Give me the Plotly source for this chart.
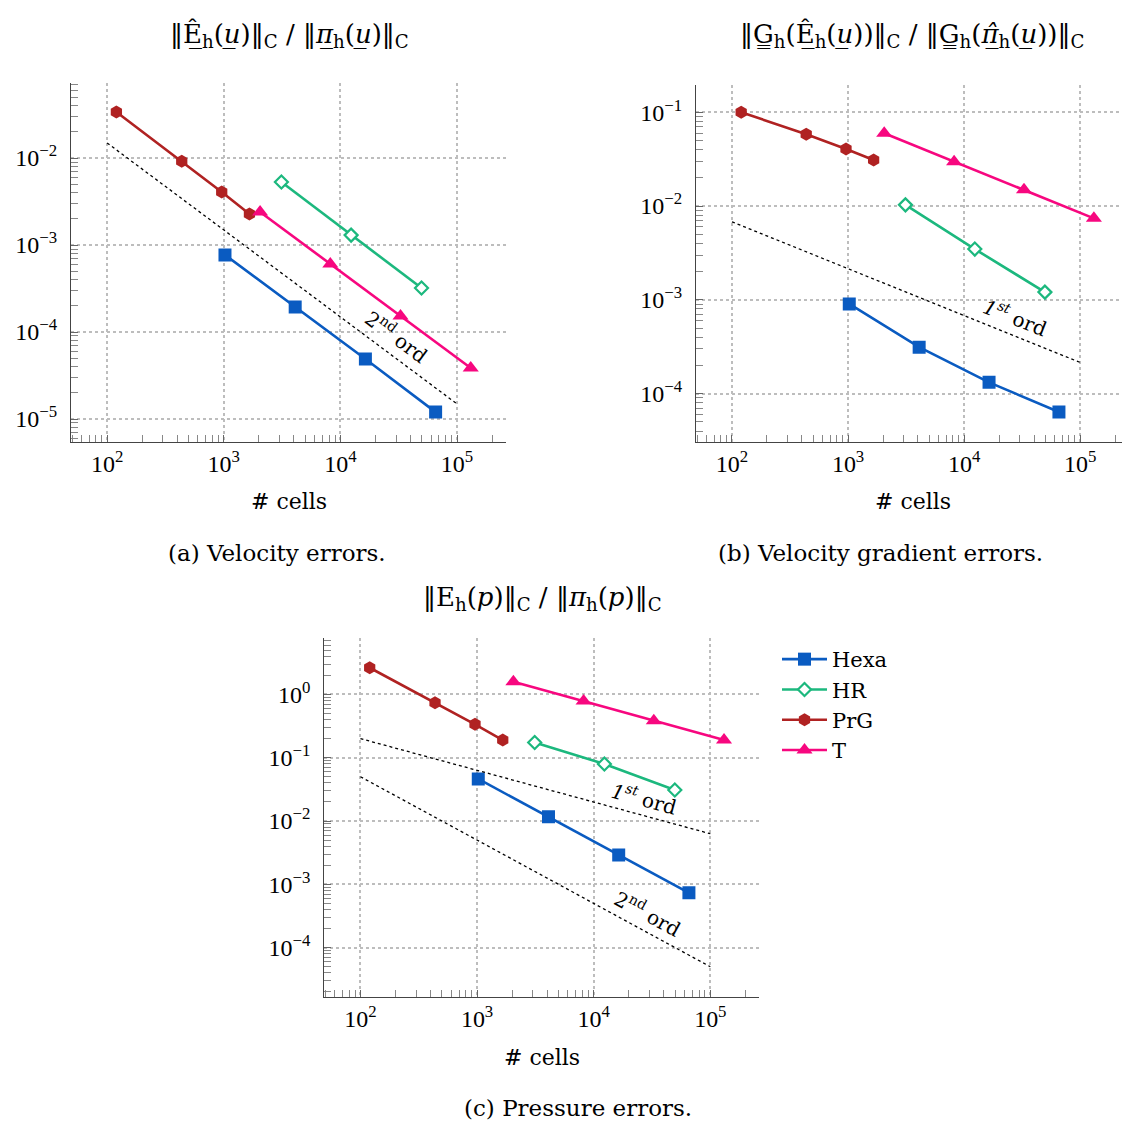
import plotly.graph_objects as go

# ---------------- data ----------------
hexa_cells = [1024, 4096, 16384, 65536]
hr_cells = [3120, 12350, 49600]
prg_cells = [120, 436, 960, 1660]
t_cells = [2048, 8192, 32768, 131072]

# (a) velocity errors
a_hexa = [7.7e-4, 1.94e-4, 4.9e-5, 1.2e-5]
a_hr = [5.3e-3, 1.30e-3, 3.2e-4]
a_prg = [3.38e-2, 9.2e-3, 4.07e-3, 2.27e-3]
a_t = [2.4e-3, 6.05e-4, 1.53e-4, 3.86e-5]

# (b) velocity gradient errors
b_hexa = [9.06e-4, 3.13e-4, 1.32e-4, 6.38e-5]
b_hr = [1.03e-2, 3.48e-3, 1.21e-3]
b_prg = [0.100, 0.0583, 0.0406, 0.031]
b_t = [0.0597, 0.0297, 0.0149, 0.0074]

# (c) pressure errors
c_hexa = [0.0461, 0.0117, 2.9e-3, 7.36e-4]
c_hr = [0.174, 0.0795, 0.0309]
c_prg = [2.63, 0.737, 0.336, 0.19]
c_t = [1.58, 0.784, 0.383, 0.19]

# reference slopes
ref_x = [100, 100000]
a_ref2 = [1.49e-2, 1.49e-5]
b_ref1 = [6.8e-3, 2.15e-4]
c_ref1 = [0.2, 6.3e-3]
c_ref2 = [0.05, 5e-5]

# tick labels
x_tickvals = [1e2, 1e3, 1e4, 1e5]
x_ticktext = ["10<sup>2</sup>", "10<sup>3</sup>", "10<sup>4</sup>", "10<sup>5</sup>"]
a_tickvals = [1e-5, 1e-4, 1e-3, 1e-2]
a_ticktext = ["10<sup>−5</sup>", "10<sup>−4</sup>", "10<sup>−3</sup>", "10<sup>−2</sup>"]
b_tickvals = [1e-4, 1e-3, 1e-2, 1e-1]
b_ticktext = ["10<sup>−4</sup>", "10<sup>−3</sup>", "10<sup>−2</sup>", "10<sup>−1</sup>"]
c_tickvals = [1e-4, 1e-3, 1e-2, 1e-1, 1e0]
c_ticktext = ["10<sup>−4</sup>", "10<sup>−3</sup>", "10<sup>−2</sup>", "10<sup>−1</sup>", "10<sup>0</sup>"]

TFONT = "DejaVu Serif"
NFONT = "Liberation Serif"
colors = {"Hexa": "#0a5bc1", "HR": "#1cb87e", "PrG": "#b02222", "T": "#f7077f"}

fig = go.Figure()


def add_series(xa, ya, hexa, hr, prg, t, legend):
    fig.add_trace(go.Scatter(x=hexa_cells, y=hexa, name="Hexa", mode="lines+markers",
                             line=dict(color=colors["Hexa"], width=2.6),
                             marker=dict(symbol="square", size=13, color=colors["Hexa"]),
                             xaxis=xa, yaxis=ya, showlegend=legend))
    fig.add_trace(go.Scatter(x=hr_cells, y=hr, name="HR", mode="lines+markers",
                             line=dict(color=colors["HR"], width=2.6),
                             marker=dict(symbol="diamond", size=10, color="white",
                                         line=dict(color=colors["HR"], width=2.2)),
                             xaxis=xa, yaxis=ya, showlegend=legend))
    fig.add_trace(go.Scatter(x=prg_cells, y=prg, name="PrG", mode="lines+markers",
                             line=dict(color=colors["PrG"], width=2.6),
                             marker=dict(symbol="hexagon", size=13, color=colors["PrG"]),
                             xaxis=xa, yaxis=ya, showlegend=legend))
    fig.add_trace(go.Scatter(x=t_cells, y=t, name="T", mode="lines+markers",
                             line=dict(color=colors["T"], width=2.6),
                             marker=dict(symbol="triangle-up", size=14, color=colors["T"]),
                             xaxis=xa, yaxis=ya, showlegend=legend))


def add_ref(xa, ya, yvals):
    fig.add_trace(go.Scatter(x=ref_x, y=yvals, mode="lines",
                             line=dict(color="black", width=1.3, dash="dot"),
                             xaxis=xa, yaxis=ya, showlegend=False, hoverinfo="skip"))


add_series("x", "y", a_hexa, a_hr, a_prg, a_t, False)
add_ref("x", "y", a_ref2)
add_series("x2", "y2", b_hexa, b_hr, b_prg, b_t, False)
add_ref("x2", "y2", b_ref1)
add_series("x3", "y3", c_hexa, c_hr, c_prg, c_t, True)
add_ref("x3", "y3", c_ref1)
add_ref("x3", "y3", c_ref2)

W, H = 1130, 1126
OFF = 8  # page body margin


def px_x(p):
    return (p - OFF) / W


def px_y(p):
    return 1 - (p - OFF) / H


common = dict(
    type="log", tickmode="array", automargin=False,
    showgrid=True, gridcolor="#bdbdbd", griddash="dot", gridwidth=1.6,
    showline=True, linecolor="#444444", linewidth=1.3, mirror=False,
    ticks="inside", ticklen=7, tickcolor="#666666", tickwidth=1,
    tickfont=dict(family=NFONT, size=24, color="black"),
    minor=dict(ticks="inside", ticklen=7, dtick="D1", tickcolor="#888888", showgrid=False),
    zeroline=False,
)
ycommon = dict(common, ticklabelstandoff=8)
xt = dict(tickvals=x_tickvals, ticktext=x_ticktext)

xr = [1.69, 5.42]
fig.update_layout(
    xaxis=dict(common, **xt, domain=[px_x(71), px_x(506)], range=xr, anchor="y"),
    yaxis=dict(ycommon, tickvals=a_tickvals, ticktext=a_ticktext,
               domain=[px_y(441.7), px_y(83.3)], range=[-5.261, -1.141], anchor="x"),
    xaxis2=dict(common, **xt, domain=[px_x(696), px_x(1129)], range=xr, anchor="y2"),
    yaxis2=dict(ycommon, tickvals=b_tickvals, ticktext=b_ticktext,
                domain=[px_y(441.7), px_y(84.7)], range=[-4.512, -0.706], anchor="x2"),
    xaxis3=dict(common, **xt, domain=[px_x(324.3), px_x(759.3)], range=xr, anchor="y3"),
    yaxis3=dict(ycommon, tickvals=c_tickvals, ticktext=c_ticktext,
                domain=[px_y(996.7), px_y(638.3)], range=[-4.774, 0.885], anchor="x3"),
)

ann = []


def paper_text(text, x, y, size=20):
    ann.append(dict(text=text, x=px_x(x), y=px_y(y), xref="paper", yref="paper",
                    showarrow=False, xanchor="center", yanchor="middle",
                    font=dict(family=TFONT, size=size, color="black")))


# titles
paper_text("‖Ê̲<sub>h</sub>(<i>u̲</i>)‖<sub>C</sub> / ‖<i>π̲</i><sub>h</sub>(<i>u̲</i>)‖<sub>C</sub>", 289, 35, 26)
paper_text("‖G̳<sub>h</sub>(Ê̲<sub>h</sub>(<i>u̲</i>))‖<sub>C</sub> / ‖G̳<sub>h</sub>(<i>π̲̂</i><sub>h</sub>(<i>u̲</i>))‖<sub>C</sub>", 912, 35, 26)
paper_text("‖E<sub>h</sub>(<i>p</i>)‖<sub>C</sub> / ‖<i>π</i><sub>h</sub>(<i>p</i>)‖<sub>C</sub>", 542, 598, 26)

# x-axis titles
paper_text("# cells", 289, 501, 22)
paper_text("# cells", 913, 501, 22)
paper_text("# cells", 542, 1057, 22)

# captions
paper_text("(a) Velocity errors.", 277, 553, 23)
paper_text("(b) Velocity gradient errors.", 880, 553, 23)
paper_text("(c) Pressure errors.", 578, 1108, 23)


def slope_label(text, xa, ya, lx, ly, angle):
    ann.append(dict(text=text, x=lx, y=ly, xref=xa, yref=ya, showarrow=False,
                    textangle=angle, xanchor="center", yanchor="middle",
                    font=dict(family=TFONT, size=20, color="black")))


slope_label("2<sup>nd</sup> ord", "x", "y", 4.483, -4.05, 36.7)
slope_label("<i>1</i><sup><i>st</i></sup> ord", "x2", "y2", 4.446, -3.187, 21.7)
slope_label("<i>1</i><sup><i>st</i></sup> ord", "x3", "y3", 4.434, -1.643, 15.3)
slope_label("2<sup>nd</sup> ord", "x3", "y3", 4.464, -3.46, 28.5)

fig.update_layout(
    width=W, height=H, margin=dict(l=0, r=0, t=0, b=0, autoexpand=False),
    paper_bgcolor="white", plot_bgcolor="white",
    annotations=ann,
    legend=dict(x=px_x(777), y=px_y(639), xanchor="left", yanchor="top",
                font=dict(family=TFONT, size=21, color="black"),
                bgcolor="rgba(0,0,0,0)", itemwidth=45, tracegroupgap=0),
    font=dict(family=TFONT),
)

fig.write_html("out.html")
